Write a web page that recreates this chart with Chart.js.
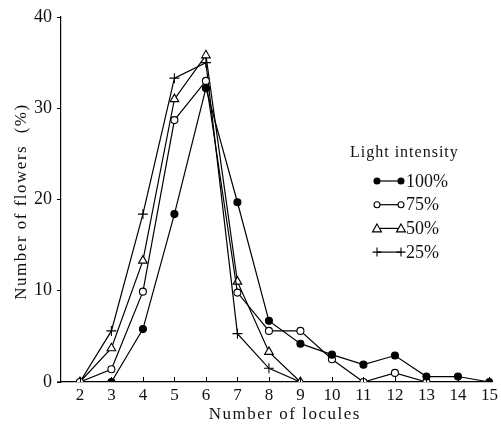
<!DOCTYPE html>
<html>
<head>
<meta charset="utf-8">
<script src="https://cdn.jsdelivr.net/npm/chart.js@4"></script>
<style>
  html, body { margin: 0; padding: 0; background: #fff; }
  #wrap { width: 501px; height: 428px; }
</style>
</head>
<body>
<div id="wrap"><canvas id="graph" width="501" height="428"></canvas></div>
<script>
// number of locules
var locules = [2, 3, 4, 5, 6, 7, 8, 9, 10, 11, 12, 13, 14, 15];

// percent of flowers for each light intensity (null = not plotted)
var light100 = [null, 0, 5.8, 18.4, 32.2, 19.7, 6.7, 4.2, 3.0, 1.9, 2.9, 0.6, 0.6, 0];
var light75 = [0, 1.4, 9.9, 28.7, 33.0, 9.8, 5.6, 5.6, 2.5, 0, 1.0, 0, null, null];
var light50 = [0, 3.7, 13.3, 31.0, 35.8, 11.0, 3.3, 0, null, null, null, null, null, null];
var light25 = [0, 5.6, 18.4, 33.3, 35.0, 5.3, 1.5, 0, null, null, null, null, null, null];

var yTicks = [0, 10, 20, 30, 40];
var legendLabels = ["100%", "75%", "50%", "25%"];

function toPoints(values) {
    return locules.map(function (x, i) { return { x: x, y: values[i] }; });
}

var serif = "'Liberation Serif', 'DejaVu Serif', serif";

var styles = [
    { pointStyle: 'circle', pointRadius: 3.5, pointBackgroundColor: '#000' },
    { pointStyle: 'circle', pointRadius: 3.5, pointBackgroundColor: '#fff' },
    { pointStyle: 'triangle', pointRadius: 5, pointBackgroundColor: '#fff' },
    { pointStyle: 'cross', pointRadius: 5, pointBackgroundColor: '#fff' }
];
var series = [light100, light75, light50, light25];

var datasets = series.map(function (values, i) {
    return Object.assign({
        label: legendLabels[i],
        data: toPoints(values),
        borderColor: '#000',
        borderWidth: 1.2,
        pointBorderColor: '#000',
        pointBorderWidth: 1.1,
        spanGaps: false,
        tension: 0
    }, styles[i]);
});

// draws inside x ticks, axis titles and the legend box
var extras = {
    id: 'extras',
    afterDraw: function (chart) {
        var ctx = chart.ctx;
        var x = chart.scales.x;
        var area = chart.chartArea;
        ctx.save();
        ctx.strokeStyle = '#000';
        ctx.lineWidth = 1;
        locules.forEach(function (v) {
            var px = Math.round(x.getPixelForValue(v)) + 0.5;
            ctx.beginPath();
            ctx.moveTo(px, area.bottom);
            ctx.lineTo(px, area.bottom - 5);
            ctx.stroke();
        });
        // axis line pokes a little left of the y axis
        ctx.lineWidth = 1.2;
        ctx.beginPath();
        ctx.moveTo(area.left - 4, area.bottom);
        ctx.lineTo(area.left, area.bottom);
        ctx.stroke();

        ctx.fillStyle = '#111';
        ctx.textAlign = 'center';
        ctx.textBaseline = 'middle';
        ctx.letterSpacing = '1.5px';
        ctx.font = '17px ' + serif;
        ctx.fillText('Number of locules', (area.left + area.right) / 2 + 8, 415);

        ctx.save();
        ctx.translate(22, (area.top + area.bottom) / 2 + 2);
        ctx.rotate(-Math.PI / 2);
        ctx.fillText('Number of flowers  (%)', 0, 0);
        ctx.restore();

        // legend
        ctx.letterSpacing = '1px';
        ctx.textAlign = 'left';
        ctx.font = '16px ' + serif;
        ctx.fillText('Light intensity', 350, 153);
        ctx.letterSpacing = '0px';
        ctx.font = '18px ' + serif;
        legendLabels.forEach(function (lab, i) {
            var ly = 181 + i * 23.7;
            ctx.beginPath();
            ctx.moveTo(377, ly);
            ctx.lineTo(401, ly);
            ctx.lineWidth = 1.2;
            ctx.stroke();
            [377, 401].forEach(function (mx) {
                ctx.fillStyle = styles[i].pointBackgroundColor;
                ctx.strokeStyle = '#000';
                ctx.lineWidth = 1.1;
                ctx.beginPath();
                if (styles[i].pointStyle === 'circle') {
                    ctx.arc(mx, ly, 3, 0, Math.PI * 2);
                    ctx.fill();
                } else if (styles[i].pointStyle === 'triangle') {
                    ctx.moveTo(mx, ly - 4.5);
                    ctx.lineTo(mx + 4.5, ly + 3.5);
                    ctx.lineTo(mx - 4.5, ly + 3.5);
                    ctx.closePath();
                    ctx.fill();
                } else {
                    ctx.moveTo(mx - 4.5, ly);
                    ctx.lineTo(mx + 4.5, ly);
                    ctx.moveTo(mx, ly - 4.5);
                    ctx.lineTo(mx, ly + 4.5);
                }
                ctx.stroke();
            });
            ctx.fillStyle = '#111';
            ctx.fillText(lab, 406, ly + 1);
        });
        ctx.restore();
    }
};

new Chart(document.getElementById('graph').getContext('2d'), {
    type: 'line',
    data: { datasets: datasets },
    options: {
        responsive: false,
        animation: false,
        layout: { padding: { top: 17, right: 6, left: 0, bottom: 0 } },
        plugins: { legend: { display: false }, tooltip: { enabled: false } },
        scales: {
            x: {
                type: 'linear',
                min: 1.4,
                max: 15.1,
                afterBuildTicks: function (scale) {
                    scale.ticks = locules.map(function (v) { return { value: v }; });
                },
                afterFit: function (scale) { scale.height = 46; },
                border: { color: '#000', width: 1.2 },
                grid: { display: false, drawTicks: false, tickLength: 0 },
                ticks: {
                    color: '#111',
                    padding: 3,
                    font: { family: serif, size: 17 },
                    maxRotation: 0,
                    autoSkip: false
                }
            },
            y: {
                min: 0,
                max: 40,
                afterBuildTicks: function (scale) {
                    scale.ticks = yTicks.map(function (v) { return { value: v }; });
                },
                afterFit: function (scale) { scale.width = 61; },
                border: { color: '#000', width: 1.2 },
                grid: { drawOnChartArea: false, color: '#000', tickLength: 4 },
                ticks: {
                    color: '#111',
                    padding: 5,
                    font: { family: serif, size: 18 }
                }
            }
        }
    },
    plugins: [extras]
});
</script>
</body>
</html>
